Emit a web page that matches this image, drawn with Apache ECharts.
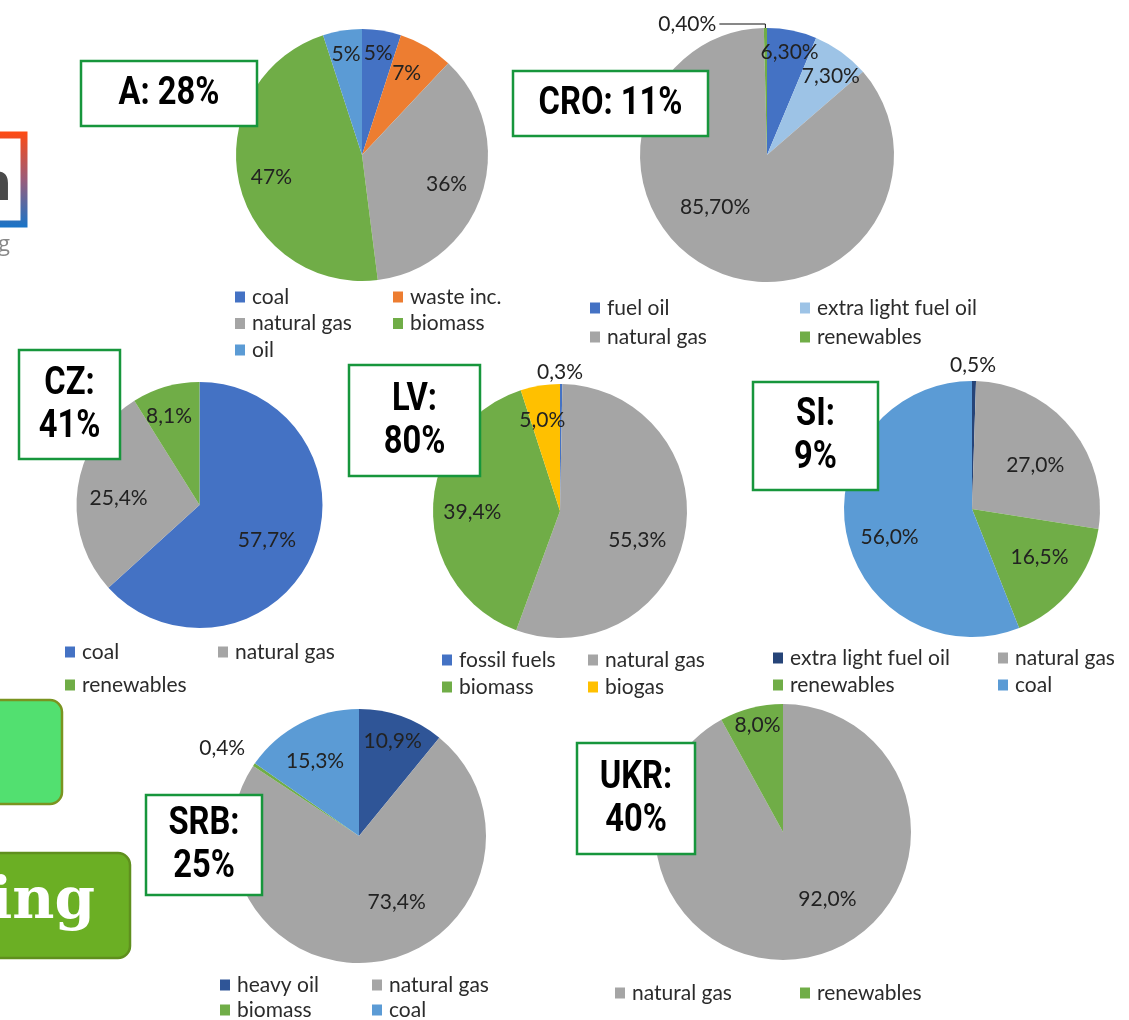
<!DOCTYPE html>
<html>
<head>
<meta charset="utf-8">
<script src="https://cdn.jsdelivr.net/npm/echarts@6/dist/echarts.min.js"></script>
<style>
html,body{margin:0;padding:0;background:#fff;}
#chart{width:1129px;height:1020px;}
</style>
</head>
<body>
<div id="chart"></div>
<script>
// ---------- DATA ----------
const A_cats = ['coal', 'waste inc.', 'natural gas', 'biomass', 'oil'];
const A_vals = [5, 7, 36, 47, 5];
const CRO_cats = ['fuel oil', 'extra light fuel oil', 'natural gas', 'renewables'];
const CRO_vals = [6.3, 7.3, 85.7, 0.4];
const CZ_cats = ['coal', 'natural gas', 'renewables'];
const CZ_vals = [57.7, 25.4, 8.1];
const LV_cats = ['fossil fuels', 'natural gas', 'biomass', 'biogas'];
const LV_vals = [0.3, 55.3, 39.4, 5.0];
const SI_cats = ['extra light fuel oil', 'natural gas', 'renewables', 'coal'];
const SI_vals = [0.5, 27.0, 16.5, 56.0];
const SRB_cats = ['heavy oil', 'natural gas', 'biomass', 'coal'];
const SRB_vals = [10.9, 73.4, 0.4, 15.3];
const UKR_cats = ['natural gas', 'renewables'];
const UKR_vals = [92.0, 8.0];
const boxTexts = ['A: 28%', 'CRO: 11%', 'CZ:\n41%', 'LV:\n80%', 'SI:\n9%', 'SRB:\n25%', 'UKR:\n40%'];

// ---------- STYLE / LAYOUT ----------
const BLUE = '#4472C4', ORANGE = '#ED7D31', GRAY = '#A5A5A5', GREEN = '#70AD47',
      LBLUE = '#5B9BD5', PALE = '#9DC3E6', GOLD = '#FFC000', DBLUE = '#2F5597', NAVY = '#264478';
const LEG_FONT = 'Lato, "Open Sans", sans-serif';
const LEG_SIZE = 21;
const LAB_SIZE = 21;

const pies = [
  { cats: A_cats, vals: A_vals, dec: 0, c: [362, 155], r: 126,
    colors: [BLUE, ORANGE, GRAY, GREEN, LBLUE],
    place: [[0.82, 0], [0.74, -2], [0.71, 1], [0.74, -1], [0.81, 0]],
    legend: { x: [235, 393], top: 297, gap: 26.5 } },
  { cats: CRO_cats, vals: CRO_vals, dec: 2, c: [767, 155], r: 127,
    colors: [BLUE, PALE, GRAY, GREEN],
    place: [[0.83, 1], [0.8, 3], [0.58, 21], 'line'],
    legend: { x: [590, 800], top: 308, gap: 29 } },
  { cats: CZ_cats, vals: CZ_vals, dec: 1, c: [199.5, 505], r: 123,
    colors: [BLUE, GRAY, GREEN],
    place: [[0.62, 4], [0.66, -3], [0.76, -3]],
    legend: { x: [65, 218], top: 652, gap: 33 } },
  { cats: LV_cats, vals: LV_vals, dec: 1, c: [560, 511], r: 127,
    colors: [BLUE, GRAY, GREEN, GOLD],
    place: [[1.09, -0.5], [0.65, 10], [0.69, -2], [0.73, -2]],
    legend: { x: [442, 588], top: 660, gap: 27 } },
  { cats: SI_cats, vals: SI_vals, dec: 1, c: [972, 509], r: 128,
    colors: [NAVY, GRAY, GREEN, LBLUE],
    place: [[1.12, -0.5], [0.6, 5], [0.65, -3], [0.68, -8]],
    legend: { x: [773, 998], top: 658, gap: 27 } },
  { cats: SRB_cats, vals: SRB_vals, dec: 1, c: [359, 836], r: 127,
    colors: [DBLUE, GRAY, GREEN, LBLUE],
    place: [[0.79, 0], [0.6, -21], [1.28, -1.5], [0.68, -3]],
    legend: { x: [220, 372], top: 985, gap: 25 } },
  { cats: UKR_cats, vals: UKR_vals, dec: 1, c: [783, 832], r: 128,
    colors: [GRAY, GREEN],
    place: [[0.63, -19], [0.86, 1]],
    legend: { x: [615, 800], top: 993, gap: 27 } }
];

const boxes = [
  [81, 61, 176, 65], [513, 71, 195, 65], [19, 350, 101, 109], [349, 365, 131, 111],
  [753, 382, 125, 108], [146, 795, 116, 100], [577, 743, 118, 111]
];

function fmt(v, d) { return v.toFixed(d).replace('.', ',') + '%'; }

function makeLayout(p) {
  const total = p.vals.reduce((a, b) => a + b, 0);
  const mids = []; let s = 0;
  p.vals.forEach(v => { mids.push((s + v / 2) / total); s += v; });
  return function (params) {
    const pl = p.place[params.dataIndex];
    if (pl === 'line') return;
    const ang = (mids[params.dataIndex] * 360 + pl[1]) * Math.PI / 180;
    const d = pl[0] * p.r;
    return { x: p.c[0] + d * Math.sin(ang), y: p.c[1] - d * Math.cos(ang), align: 'center', verticalAlign: 'middle' };
  };
}

const series = [];
const legends = [];
pies.forEach((p, pi) => {
  const data = p.cats.map((n, i) => {
    const item = { name: n, value: p.vals[i], itemStyle: { color: p.colors[i] } };
    if (p.place[i] === 'line') {
      item.label = { position: 'outside', distanceToLabelLine: 3 };
      item.labelLine = { show: true, length: 4, length2: 46, smooth: false, lineStyle: { color: '#111', width: 1 } };
    }
    return item;
  });
  series.push({
    type: 'pie', center: p.c, radius: [0, p.r], startAngle: 90, clockwise: true,
    avoidLabelOverlap: false, minShowLabelAngle: 0, animation: false,
    emphasis: { disabled: true }, silent: true,
    itemStyle: { borderWidth: 0 },
    label: { show: true, position: 'inside', fontFamily: LEG_FONT, fontSize: LAB_SIZE, color: '#222',
      formatter: (prm) => fmt(prm.value, p.dec) },
    labelLine: { show: false },
    labelLayout: makeLayout(p),
    data: data
  });
  // one legend component per entry: 2-column grid under each pie
  p.cats.forEach((n, i) => {
    const col = i % 2, row = Math.floor(i / 2);
    legends.push({
      orient: 'horizontal', left: p.legend.x[col], top: p.legend.top + row * p.legend.gap - LEG_SIZE / 2,
      itemWidth: 10, itemHeight: 11, icon: 'rect',
      selectedMode: false, padding: 0,
      textStyle: { fontFamily: LEG_FONT, fontSize: LEG_SIZE, color: '#2b2b2b', padding: [0, 0, 0, 2] },
      data: [{ name: n, itemStyle: { color: p.colors[i] } }]
    });
  });
});

// graphic: boxes + decorative slide fragments
const graphic = [];
// logo fragment
graphic.push({ type: 'rect', z: 1, shape: { x: -60, y: 135, width: 84, height: 89 },
  style: { fill: '#fff', lineWidth: 7, stroke: new echarts.graphic.LinearGradient(0, 0, 0, 1, [
    { offset: 0, color: '#FF4A12' }, { offset: 0.5, color: '#9A5C7A' }, { offset: 1, color: '#1874C8' }]) } });
graphic.push({ type: 'text', z: 2, style: { text: 'n', x: 12, y: 186, align: 'right', verticalAlign: 'middle',
  font: 'bold 52px "DejaVu Sans", sans-serif', fill: '#4a4a4a' } });
graphic.push({ type: 'text', z: 2, style: { text: 'g', x: 10, y: 245, align: 'right', verticalAlign: 'middle',
  font: '22px "Open Sans", sans-serif', fill: '#888' } });
// green rounded boxes
graphic.push({ type: 'rect', z: 1, shape: { x: -30, y: 700, width: 92, height: 104, r: 12 },
  style: { fill: '#52E070', stroke: '#7A9420', lineWidth: 2.5 } });
graphic.push({ type: 'rect', z: 1, shape: { x: -30, y: 853, width: 160, height: 105, r: 12 },
  style: { fill: '#6BAF24', stroke: '#5F8F1E', lineWidth: 2.5 } });
graphic.push({ type: 'text', z: 2, style: { text: 'ing', x: 95, y: 903, align: 'right', verticalAlign: 'middle',
  font: 'bold 58px "DejaVu Serif", Georgia, serif', fill: '#fff' } });

boxes.forEach((b, i) => {
  graphic.push({ type: 'rect', z: 100, shape: { x: b[0], y: b[1], width: b[2], height: b[3] },
    style: { fill: '#fff', stroke: '#17963C', lineWidth: 2.5 } });
  graphic.push({ type: 'text', z: 101, x: b[0] + b[2] / 2, y: b[1] + b[3] / 2 + 1, scaleX: 0.86, scaleY: 1,
    style: { text: boxTexts[i], x: 0, y: 0,
    align: 'center', verticalAlign: 'middle', lineHeight: 43,
    font: 'bold 38px Roboto, "Liberation Sans", sans-serif', fill: '#000' } });
});

const chart = echarts.init(document.getElementById('chart'), null, { renderer: 'canvas' });
chart.setOption({
  animation: false,
  backgroundColor: '#ffffff',
  legend: legends,
  series: series,
  graphic: graphic
});
</script>
</body>
</html>
